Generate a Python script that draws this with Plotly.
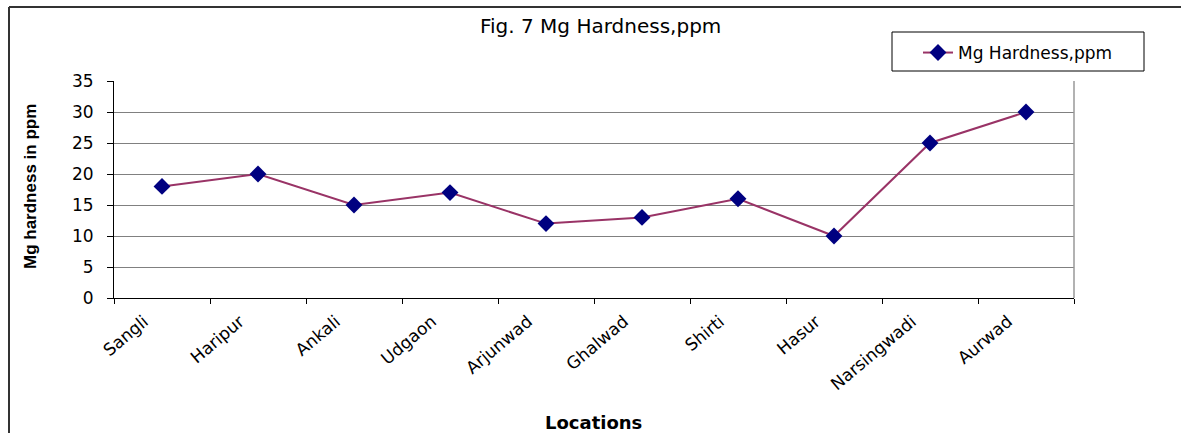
import plotly.graph_objects as go

locations = ["Sangli", "Haripur", "Ankali", "Udgaon", "Arjunwad", "Ghalwad",
             "Shirti", "Hasur", "Narsingwadi", "Aurwad"]
mg_hardness = [18, 20, 15, 17, 12, 13, 16, 10, 25, 30]
y_ticks = [0, 5, 10, 15, 20, 25, 30, 35]

W, H = 1181, 433
L, R, T, B = 114, 1074, 81, 298

def px(x):
    return (x - L) / (R - L)

def py(y):
    return (B - y) / (B - T)

WIDE = "DejaVu Sans, Verdana, sans-serif"

fig = go.Figure()
fig.add_trace(go.Scatter(
    x=locations, y=mg_hardness, mode="lines+markers",
    name="Mg Hardness,ppm",
    line=dict(color="#993366", width=2),
    marker=dict(symbol="diamond", size=13, color="#000080",
                line=dict(color="#000080", width=0)),
))

fig.update_layout(
    width=W, height=H,
    margin=dict(l=L, r=W - R, t=T, b=H - B, pad=0),
    paper_bgcolor="white", plot_bgcolor="white",
    font=dict(family=WIDE, size=15, color="black"),
    showlegend=True,
    legend=dict(x=px(918), y=py(35), xanchor="left", yanchor="top",
                borderwidth=0, bgcolor="rgba(0,0,0,0)",
                font=dict(size=17, family=WIDE), itemwidth=30,
                tracegroupgap=0),
    xaxis=dict(
        type="category", range=[-0.5, 9.5], tickangle=-40,
        tickson="boundaries", ticks="outside", ticklen=5, tickcolor="black",
        showline=True, linecolor="black", linewidth=1, mirror=False,
        showgrid=False, tickfont=dict(size=17, family=WIDE),
        ticklabelshift=-18, ticklabelstandoff=6,
    ),
    yaxis=dict(
        range=[0, 35], tickvals=y_ticks, ticks="outside", ticklen=6,
        tickcolor="black", showline=True, linecolor="black", linewidth=1,
        showgrid=True, gridcolor="#808080", gridwidth=1, zeroline=False,
        tickfont=dict(size=17, family=WIDE), ticklabelstandoff=10,
    ),
    annotations=[
        dict(text="Fig. 7 Mg Hardness,ppm", x=px(600), y=py(26), xref="paper",
             yref="paper", showarrow=False, font=dict(size=20, family=WIDE),
             xanchor="center", yanchor="middle"),
        dict(text="<b>Locations</b>", x=px(593), y=py(422), xref="paper",
             yref="paper", showarrow=False, font=dict(size=18, family=WIDE),
             xanchor="center", yanchor="middle"),
        dict(text="<b>Mg hardness in ppm</b>", x=px(30), y=py(187), xref="paper",
             yref="paper", showarrow=False, textangle=-90,
             font=dict(size=17, family="Liberation Sans Narrow, Liberation Sans, Arial, sans-serif"),
             xanchor="center", yanchor="middle"),
    ],
    shapes=[
        dict(type="line", xref="paper", yref="paper", x0=px(1074), x1=px(1074),
             y0=0, y1=1, line=dict(color="#999999", width=1.5)),
        dict(type="line", xref="paper", yref="paper", x0=px(9), x1=px(9),
             y0=py(7), y1=py(440), line=dict(color="#333333", width=2)),
        dict(type="line", xref="paper", yref="paper", x0=px(9), x1=px(1190),
             y0=py(7), y1=py(7), line=dict(color="#333333", width=2)),
        dict(type="rect", xref="paper", yref="paper", x0=px(892), x1=px(1144),
             y0=py(32), y1=py(71), line=dict(color="black", width=1),
             fillcolor="rgba(0,0,0,0)", layer="above"),
    ],
)

fig.write_html("out.html", config={"displayModeBar": False},
               post_script="document.body.style.margin='0';document.body.style.overflow='hidden';")
